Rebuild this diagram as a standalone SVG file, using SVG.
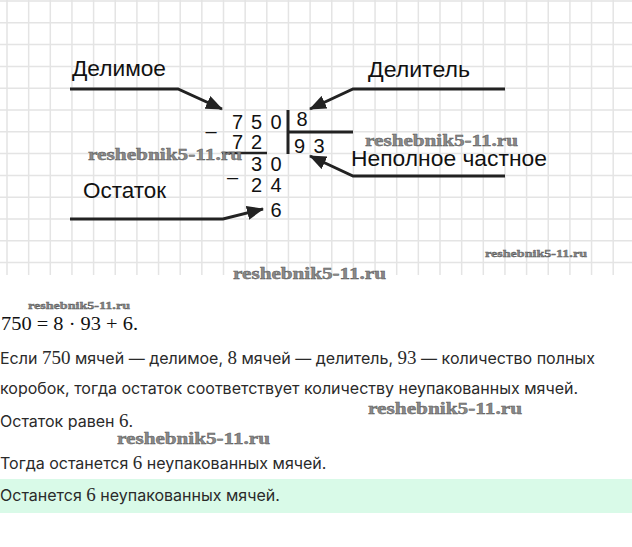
<svg xmlns="http://www.w3.org/2000/svg" width="632" height="547" viewBox="0 0 632 547">
<style>
.grid{stroke:#e4e4e4;stroke-width:1.5;fill:none}
.lbl{font-family:"Liberation Sans",Arial,sans-serif;font-size:22px;fill:#111}
.dig{font-family:"Liberation Sans",Arial,sans-serif;font-size:20px;fill:#111;text-anchor:middle}
.ln{stroke:#222;stroke-width:3;fill:none}
.arr{stroke:#222;stroke-width:3;fill:none;marker-end:url(#ah)}
.wm{font-family:"Liberation Serif","DejaVu Serif",serif;font-weight:bold;fill:#8a8a8a;stroke:#555;stroke-width:0.4}
.body{font-family:Inter,Roboto,"Liberation Sans",sans-serif;font-size:16px;fill:#2a2a2a}
.m{font-family:"Liberation Serif","DejaVu Serif",serif;font-size:19px}
</style>
<defs>
<marker id="ah" markerUnits="userSpaceOnUse" markerWidth="18" markerHeight="14" refX="16" refY="7" orient="auto">
<path d="M0,0 L17,7 L0,14 Z" fill="#222"/>
</marker>
</defs>
<rect width="632" height="547" fill="#fff"/>
<g id="grid">
<path class="grid" d="M7,0V275M28.65,0V275M50.3,0V275M71.95,0V275M93.6,0V275M115.25,0V275M136.9,0V275M158.55,0V275M180.2,0V275M201.85,0V275M223.5,0V275M245.15,0V275M266.8,0V275M288.45,0V275M310.1,0V275M331.75,0V275M353.4,0V275M375.05,0V275M396.7,0V275M418.35,0V275M440,0V275M461.65,0V275M483.3,0V275M504.95,0V275M526.6,0V275M548.25,0V275M569.9,0V275M591.55,0V275M613.2,0V275M0,1H632M0,22.8H632M0,44.6H632M0,66.4H632M0,88.2H632M0,110H632M0,131.8H632M0,153.6H632M0,175.4H632M0,197.2H632M0,219H632M0,240.8H632M0,262.6H632"/>
</g>
<g id="connectors">
<polyline class="arr" points="70,89 178,89 222,109"/>
<polyline class="arr" points="505,89 353,89 310,109"/>
<polyline class="arr" points="505,176 353,176 310,156"/>
<polyline class="arr" points="70,219 223,219 263,209"/>
</g>
<g id="label-dividend"><text class="lbl" x="72" y="76" textLength="94" lengthAdjust="spacingAndGlyphs">Делимое</text></g>
<g id="label-divisor"><text class="lbl" x="368" y="77" textLength="102" lengthAdjust="spacingAndGlyphs">Делитель</text></g>
<g id="label-quotient"><text class="lbl" x="351" y="166" textLength="196" lengthAdjust="spacingAndGlyphs">Неполное частное</text></g>
<g id="label-remainder"><text class="lbl" x="83" y="198" textLength="83" lengthAdjust="spacingAndGlyphs">Остаток</text></g>
<g id="division">
<text class="dig" x="237.5" y="129">7</text>
<text class="dig" x="256.5" y="129">5</text>
<text class="dig" x="276" y="129">0</text>
<text class="dig" x="211" y="138">–</text>
<text class="dig" x="237.5" y="149">7</text>
<text class="dig" x="256.5" y="149">2</text>
<line class="ln" x1="222" y1="153" x2="267" y2="153" style="stroke-width:2.5"/>
<text class="dig" x="256.5" y="171">3</text>
<text class="dig" x="276" y="171">0</text>
<text class="dig" x="232.5" y="184">–</text>
<text class="dig" x="256.5" y="192">2</text>
<text class="dig" x="276" y="192">4</text>
<text class="dig" x="276" y="217">6</text>
<line class="ln" x1="288" y1="110" x2="288" y2="154"/>
<line class="ln" x1="288" y1="132" x2="353" y2="132"/>
<text class="dig" x="302" y="126">8</text>
<text class="dig" x="299.5" y="153">9</text>
<text class="dig" x="319" y="153">3</text>
</g>
<g id="watermarks">
<text class="wm" x="88" y="160" font-size="16" textLength="154" lengthAdjust="spacingAndGlyphs">reshebnik5-11.ru</text>
<text class="wm" x="365" y="146" font-size="16" textLength="153" lengthAdjust="spacingAndGlyphs">reshebnik5-11.ru</text>
<text class="wm" x="485" y="257" font-size="11" textLength="102" lengthAdjust="spacingAndGlyphs">reshebnik5-11.ru</text>
<text class="wm" x="233" y="279" font-size="16" textLength="153" lengthAdjust="spacingAndGlyphs">reshebnik5-11.ru</text>
<text class="wm" x="28" y="309" font-size="11" textLength="102" lengthAdjust="spacingAndGlyphs">reshebnik5-11.ru</text>
<text class="wm" x="368" y="414" font-size="16" textLength="154" lengthAdjust="spacingAndGlyphs">reshebnik5-11.ru</text>
<text class="wm" x="117" y="444" font-size="16" textLength="153" lengthAdjust="spacingAndGlyphs">reshebnik5-11.ru</text>
</g>
<g id="solution">
<text class="m" x="1" y="330" fill="#111" font-size="20.5" textLength="137" lengthAdjust="spacingAndGlyphs">750 = 8 · 93 + 6.</text>
<text class="body" x="0" y="364">Если <tspan class="m">750</tspan> мячей — делимое, <tspan class="m">8</tspan> мячей — делитель, <tspan class="m">93</tspan> — количество полных</text>
<text class="body" x="0" y="394">коробок, тогда остаток соответствует количеству неупакованных мячей.</text>
<text class="body" x="0" y="427">Остаток равен <tspan class="m">6</tspan>.</text>
<text class="body" x="0" y="469">Тогда останется <tspan class="m">6</tspan> неупакованных мячей.</text>
<rect x="0" y="479" width="632" height="34" fill="#d9fae8"/>
<text class="body" x="0" y="501">Останется <tspan class="m">6</tspan> неупакованных мячей.</text>
</g>
</svg>
